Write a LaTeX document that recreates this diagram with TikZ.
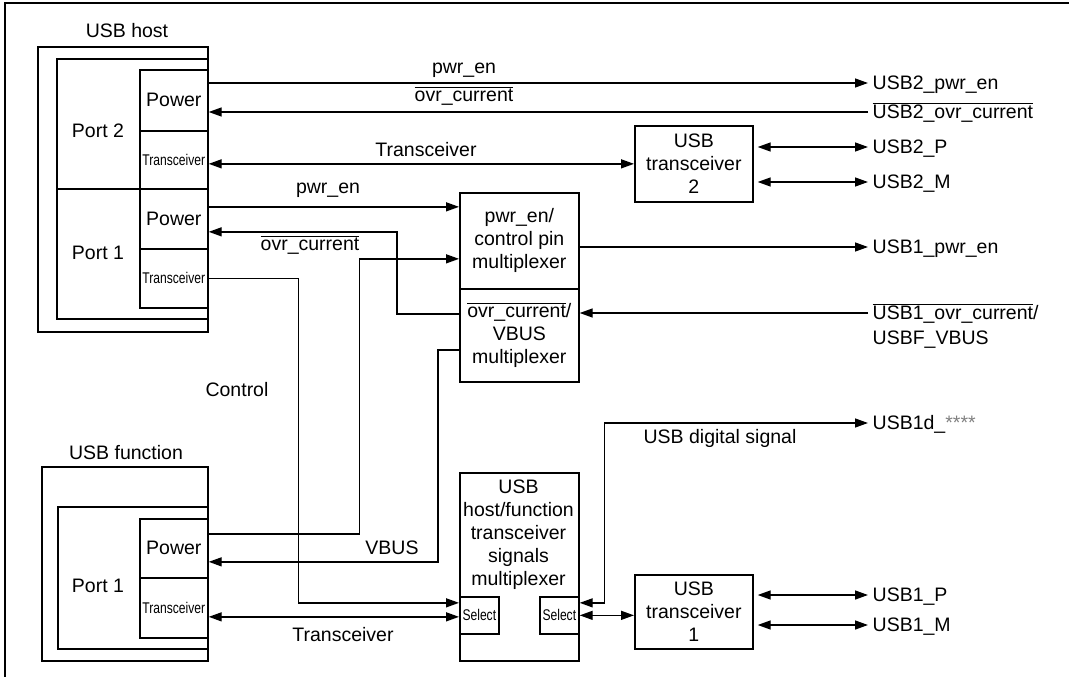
\documentclass[tikz,border=0pt]{standalone}
\usepackage{fontspec}
\setmainfont{Liberation Sans}
\usepackage{graphicx}
\usetikzlibrary{arrows.meta}
\newcommand{\ovbar}[1]{$\overline{\mbox{#1}}$}
\newcommand{\cond}[1]{\scalebox{0.78}[1]{#1}}

\begin{document}
\begin{tikzpicture}[x=1pt, y=-1pt, >={Triangle[length=13pt,width=9pt]}, line width=1.4pt,
    font=\fontsize{19.5}{23}\selectfont,
    blk/.style={draw, line width=1.7pt, inner sep=0pt, anchor=north west, align=center},
    sig/.style={anchor=west, inner sep=4pt, text height=15pt, text depth=3pt},
    sm/.style={font=\fontsize{15.5}{17}\selectfont}]
    \useasboundingbox (0,0) rectangle (1069,677);
    \draw[line width=2.8pt] (5,677) -- (5,3) -- (1069,3);

    \node[blk, minimum width=170pt, minimum height=285pt] (hostbox) at (37,46) {};
    \node (hostlbl) at (127,31) {USB host};
    \node[blk, minimum width=151pt, minimum height=130pt] (port2) at (56,58) {};
    \node[blk, minimum width=151pt, minimum height=130pt] (port1) at (56,188) {};
    \node[blk, minimum width=68pt, minimum height=61pt] (hpow2) at (139,69) {Power};
    \node[blk, sm, minimum width=68pt, minimum height=58pt] (hxcv2) at (139,130) {\cond{Transceiver}};
    \node[blk, minimum width=68pt, minimum height=60pt] (hpow1) at (139,188) {Power};
    \node[blk, sm, minimum width=68pt, minimum height=59pt] (hxcv1) at (139,248) {\cond{Transceiver}};
    \node (port2lbl) at (98,131) {Port 2};
    \node (port1lbl) at (98,253) {Port 1};

    \node[blk, minimum width=166pt, minimum height=194pt] (funcbox) at (41,466) {};
    \node (funclbl) at (126,453) {USB function};
    \node[blk, minimum width=150pt, minimum height=142pt] (fport1) at (57,506) {};
    \node[blk, minimum width=68pt, minimum height=59pt] (fpow) at (139,518) {Power};
    \node[blk, sm, minimum width=68pt, minimum height=60pt] (fxcv) at (139,577) {\cond{Transceiver}};
    \node (fportlbl) at (98,586) {Port 1};

    \node[blk, minimum width=119pt, minimum height=96pt] (pwrmux) at (459,192) {pwr\_en/\\control pin\\multiplexer};
    \node[blk, minimum width=119pt, minimum height=93pt] (ovrmux) at (459,288) {\ovbar{ovr\_current}/\\VBUS\\multiplexer};
    \node[blk, minimum width=119pt, minimum height=188pt] (xcvmux) at (459,472) {};
    \node[align=center] (xcvmuxlbl) at (518.5,535) {USB\\host/function\\transceiver\\signals\\multiplexer};
    \node[blk, sm, minimum width=39pt, minimum height=37pt] (selL) at (459,596) {\cond{Select}};
    \node[blk, sm, minimum width=39pt, minimum height=37pt] (selR) at (539,596) {\cond{Select}};

    \node[blk, minimum width=118pt, minimum height=76pt] (trx2) at (634,125) {USB\\transceiver\\2};
    \node[blk, minimum width=118pt, minimum height=74pt] (trx1) at (634,574) {USB\\transceiver\\1};

    \node[sig] (u2pwr) at (868,83) {USB2\_pwr\_en};
    \node[sig] (u2ovr) at (868,112) {\ovbar{USB2\_ovr\_current}};
    \node[sig] (u2p) at (868,147) {USB2\_P};
    \node[sig] (u2m) at (868,182) {USB2\_M};
    \node[sig] (u1pwr) at (868,247) {USB1\_pwr\_en};
    \node[sig] (u1ovr) at (868,313) {\ovbar{USB1\_ovr\_current}/};
    \node[sig] (ufvbus) at (868,338) {USBF\_VBUS};
    \node[sig] (u1d) at (868,423) {USB1d\_\textcolor{gray}{****}};
    \node[sig] (u1p) at (868,595) {USB1\_P};
    \node[sig] (u1m) at (868,625) {USB1\_M};

    \node (pwrlbl2) at (464,70) {pwr\_en};
    \node (ovrlbl2) at (464,96) {\ovbar{ovr\_current}};
    \node (xcvlbl2) at (426,150) {Transceiver};
    \node (pwrlbl1) at (328,190) {pwr\_en};
    \node (ovrlbl1) at (310,245) {\ovbar{ovr\_current}};
    \node (ctllbl) at (237,390) {Control};
    \node (vbuslbl) at (392,548) {VBUS};
    \node (xcvlbl1) at (343,635) {Transceiver};
    \node (diglbl) at (720,438) {USB digital signal};

    \draw[->] (hpow2.east |- u2pwr.west) -- (u2pwr.west);
    \draw[->] (u2ovr.west) -- (hpow2.east |- u2ovr.west);
    \draw[<->] (hxcv2.east |- trx2.west) -- (trx2.west);
    \draw[<->, shorten <=4pt] (trx2.east |- u2p.west) -- (u2p.west);
    \draw[<->, shorten <=4pt] (trx2.east |- u2m.west) -- (u2m.west);
    \coordinate (pe1) at ([yshift=12pt]hpow1.east);
    \draw[->] (pe1) -- (pe1 -| pwrmux.west);
    \draw[->] ([yshift=21.5pt]ovrmux.west) -- ++(-62,0) |- ([yshift=-13pt]hpow1.east);
    \draw[->] (pwrmux.east |- u1pwr.west) -- (u1pwr.west);
    \draw[->] (u1ovr.west) -- (u1ovr.west -| ovrmux.east);
    \draw[->] ([yshift=-14.5pt]ovrmux.west) -- ++(-21,0) |- ([yshift=-13.5pt]fpow.east);
    \draw[->] ([yshift=14.5pt]fpow.east) -- ++(151,0) |- ([yshift=-18pt]pwrmux.west);
    \draw[->] (hxcv1.east) -- ++(90,0) |- ([yshift=12.5pt]selL.west);
    \coordinate (fx) at ([yshift=-9pt]fxcv.east);
    \draw[<->] (fx) -- (fx -| selL.west);
    \draw[<->] ([yshift=12.5pt]selR.east) -- ++(25,0) |- (u1d.west);
    \draw[<->] (selR.east) -- (selR.east -| trx1.west);
    \draw[<->, shorten <=4pt] (trx1.east |- u1p.west) -- (u1p.west);
    \draw[<->, shorten <=4pt] (trx1.east |- u1m.west) -- (u1m.west);
  \end{tikzpicture}
\end{document}
